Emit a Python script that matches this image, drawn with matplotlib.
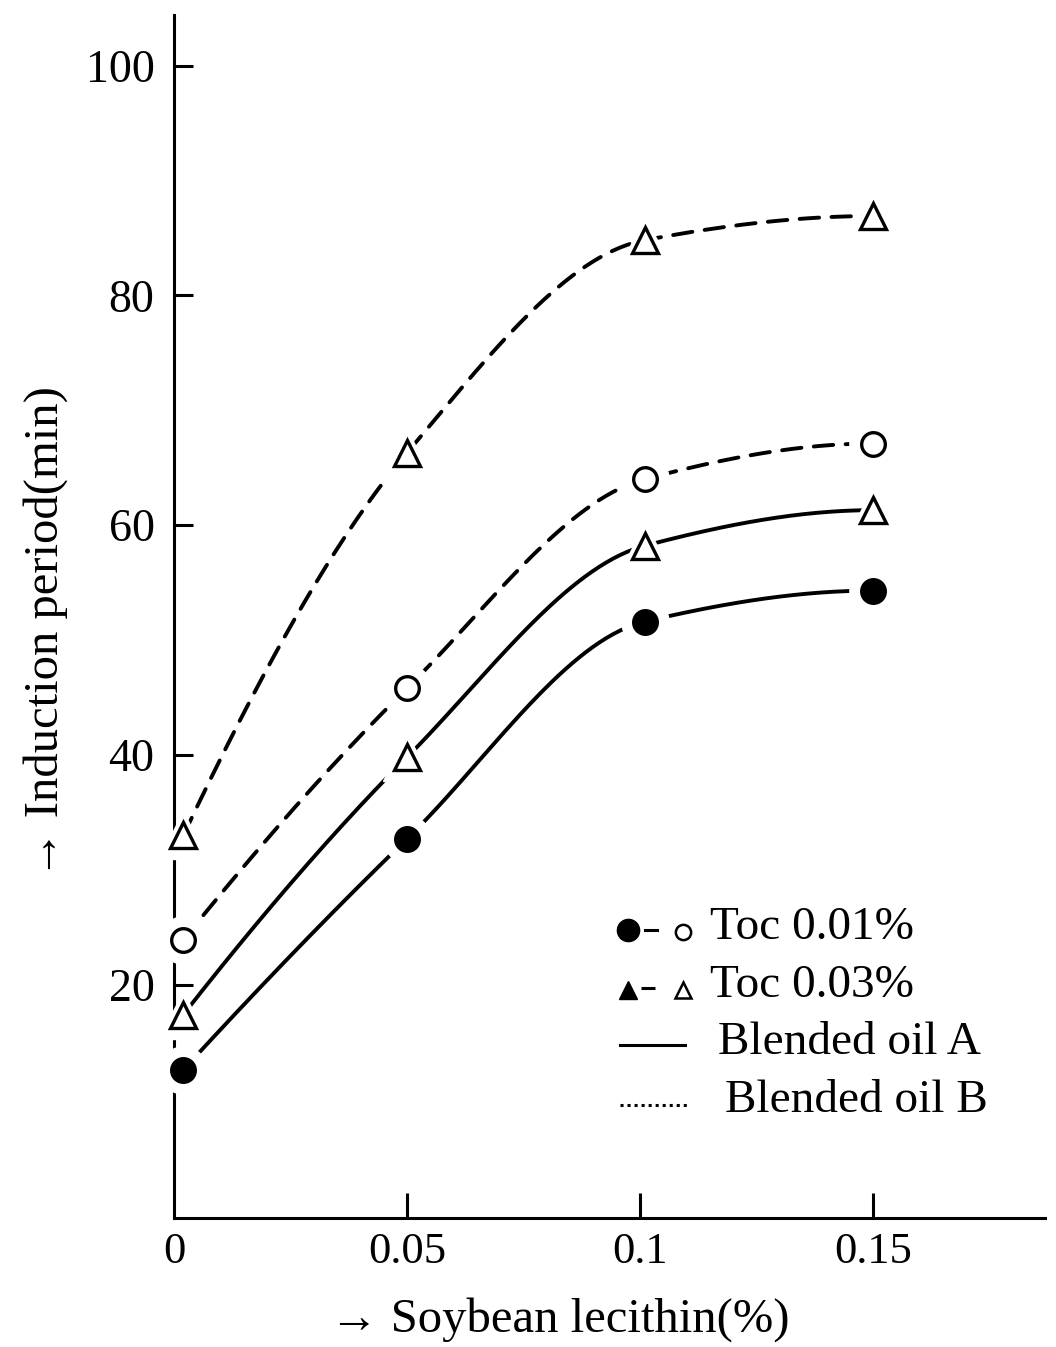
import matplotlib.pyplot as plt
import numpy as np
from matplotlib.lines import Line2D

# data
lecithin = [0.002, 0.05, 0.101, 0.15]
a_toc001 = [12.6, 32.7, 51.6, 54.3]   # blended oil A, Toc 0.01%
a_toc003 = [17.4, 39.8, 58.2, 61.3]   # blended oil A, Toc 0.03%
b_toc001 = [23.9, 45.8, 64.0, 67.1]   # blended oil B, Toc 0.01%
b_toc003 = [33.0, 66.3, 84.8, 86.9]   # blended oil B, Toc 0.03%

x_ticks = [0.05, 0.1, 0.15]
y_ticks = [20, 40, 60, 80, 100]

plt.rcParams['font.family'] = ['Liberation Serif', 'DejaVu Serif']


def pchip(x, y, n=200):
    # monotone cubic curve through the points (Fritsch-Carlson)
    x = np.asarray(x, float)
    y = np.asarray(y, float)
    h = np.diff(x)
    d = np.diff(y) / h
    m = np.zeros_like(y)
    for k in range(1, len(x) - 1):
        if d[k - 1] * d[k] > 0:
            w1 = 2 * h[k] + h[k - 1]
            w2 = h[k] + 2 * h[k - 1]
            m[k] = (w1 + w2) / (w1 / d[k - 1] + w2 / d[k])
    m[0] = ((2 * h[0] + h[1]) * d[0] - h[0] * d[1]) / (h[0] + h[1])
    if np.sign(m[0]) != np.sign(d[0]):
        m[0] = 0
    m[-1] = ((2 * h[-1] + h[-2]) * d[-1] - h[-1] * d[-2]) / (h[-1] + h[-2])
    if np.sign(m[-1]) != np.sign(d[-1]):
        m[-1] = 0
    xs = np.linspace(x[0], x[-1], n)
    idx = np.clip(np.searchsorted(x, xs) - 1, 0, len(x) - 2)
    t = (xs - x[idx]) / h[idx]
    h00 = 2 * t**3 - 3 * t**2 + 1
    h10 = t**3 - 2 * t**2 + t
    h01 = -2 * t**3 + 3 * t**2
    h11 = t**3 - t**2
    ys = h00 * y[idx] + h10 * h[idx] * m[idx] + h01 * y[idx + 1] + h11 * h[idx] * m[idx + 1]
    return xs, ys


fig = plt.figure(figsize=(10.56, 13.47), dpi=100)
ax = fig.add_axes([0.1648, 0.0958, 0.8252, 0.8931])

series = [
    (a_toc001, '-', 'o', 'black'),
    (a_toc003, '-', '^', 'white'),
    (b_toc001, (0, (5, 3.2)), 'o', 'white'),
    (b_toc003, (0, (5, 3.2)), '^', 'white'),
]
for vals, ls, mk, face in series:
    xs, ys = pchip(lecithin, vals)
    ax.plot(xs, ys, color='black', lw=2.8, ls=ls, solid_capstyle='round',
            dash_capstyle='round', zorder=2)
    # white halo so the line stops short of the marker
    ax.plot(lecithin, vals, ls='none', marker=mk, ms=34, mfc='white',
            mec='white', zorder=3, clip_on=False)
    ax.plot(lecithin, vals, ls='none', marker=mk, ms=17 if mk == 'o' else 19,
            mfc=face, mec='black', mew=2.4, zorder=4, clip_on=False)

ax.set_xlim(0, 0.187)
ax.set_ylim(-0.3, 104.4)
for s in ['top', 'right']:
    ax.spines[s].set_visible(False)
for s in ['left', 'bottom']:
    ax.spines[s].set_linewidth(2.2)

ax.set_xticks([0] + x_ticks)
ax.set_xticklabels(['0', '0.05', '0.1', '0.15'], fontsize=32)
ax.set_yticks(y_ticks)
ax.set_yticklabels([str(v) for v in y_ticks], fontsize=33)
ax.tick_params(axis='x', direction='in', length=18, width=2.2, pad=10)
ax.tick_params(axis='y', direction='in', length=14, width=2.2, pad=14)
ax.xaxis.get_major_ticks()[0].tick1line.set_visible(False)

ax.set_xlabel('→ Soybean lecithin(%)', fontsize=35)
ax.set_ylabel('→ Induction period(min)', fontsize=35)
ax.xaxis.set_label_coords(0.443, -0.066)
ax.yaxis.set_label_coords(-0.122, 0.487)

# hand drawn legend, figure pixel positions converted to fractions
W, H = 1056, 1347


def fx(px):
    return px / W


def fy(py):
    return 1 - py / H


leg = [
    (928, 'Toc 0.01%', 710),
    (986, 'Toc 0.03%', 710),
    (1043, 'Blended oil A', 718),
    (1101, 'Blended oil B', 725),
]
for py, txt, tx in leg:
    fig.text(fx(tx), fy(py), txt, fontsize=34, va='center', ha='left')

fig.add_artist(Line2D([fx(628)], [fy(930)], marker='o', ms=16, color='black'))
fig.add_artist(Line2D([fx(645), fx(657)], [fy(930), fy(930)], lw=2.2, color='black'))
fig.add_artist(Line2D([fx(683)], [fy(932)], marker='o', ms=11, mfc='white',
                      mec='black', mew=1.8))
fig.add_artist(Line2D([fx(628)], [fy(990)], marker='^', ms=13, color='black'))
fig.add_artist(Line2D([fx(648)], [fy(988)], marker='_', ms=10, mew=2.2, color='black'))
fig.add_artist(Line2D([fx(683)], [fy(990)], marker='^', ms=11, mfc='white',
                      mec='black', mew=1.8))
fig.add_artist(Line2D([fx(620), fx(685)], [fy(1045), fy(1045)], lw=2.2, color='black'))
fig.add_artist(Line2D([fx(620), fx(690)], [fy(1105), fy(1105)], lw=2.2, color='black',
                      ls=(0, (1, 1.3))))

fig.savefig('out.png', dpi=100)
